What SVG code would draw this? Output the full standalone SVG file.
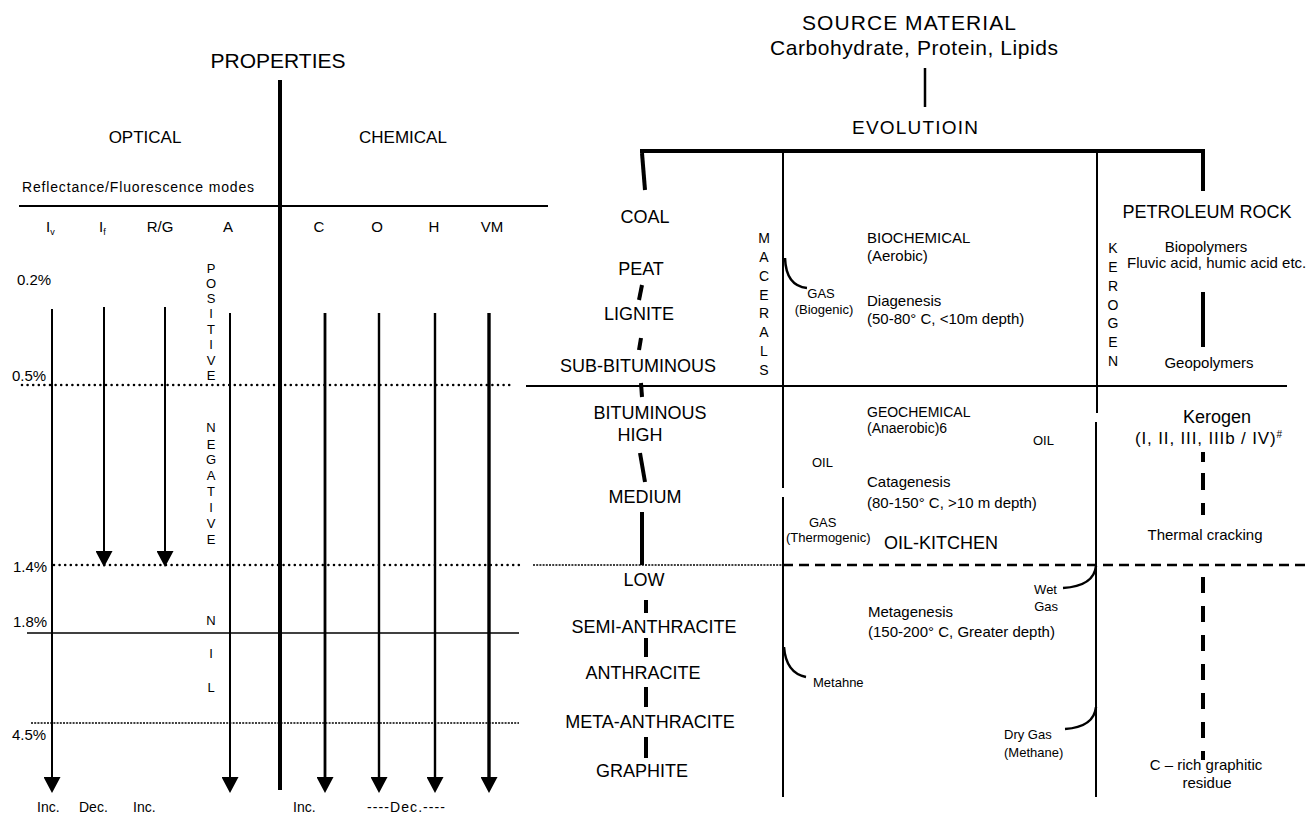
<svg xmlns="http://www.w3.org/2000/svg" width="1311" height="814" viewBox="0 0 1311 814">
<style>
text{font-family:"Liberation Sans",Arial,sans-serif;fill:#000}
.t21{font-size:21px}.t20{font-size:20px}.t18{font-size:18px}.t17{font-size:17px}.t15{font-size:15px}.t14{font-size:14px}.t13{font-size:13px}
.m{text-anchor:middle}.e{text-anchor:end}
.ln{stroke:#000;fill:none}
.dots{stroke:#000;stroke-width:2.6;stroke-linecap:round;stroke-dasharray:0 5.6}
.fine{stroke:#000;stroke-width:1.4;stroke-dasharray:2 1.2}
.dash{stroke:#000;stroke-width:2.6;stroke-dasharray:10 6}
.bar{stroke:#000;stroke-width:4;fill:none}
</style>
<defs>
<marker id="ah" markerUnits="userSpaceOnUse" markerWidth="16" markerHeight="17" viewBox="0 0 16 17" refX="6" refY="8.5" orient="auto"><path d="M0,0 L16,8.5 L0,17 z" fill="#000"/></marker>
</defs>
<rect width="1311" height="814" fill="#fff"/>

<g id="connectors">
<!-- left panel structure -->
<line class="ln" x1="280" y1="80" x2="280" y2="790" stroke-width="4"/>
<line class="ln" x1="19" y1="206" x2="548" y2="206" stroke-width="2"/>
<line class="dots" x1="22" y1="385" x2="512" y2="385"/>
<line class="dots" x1="54" y1="565" x2="519" y2="565"/>
<line class="ln" x1="27" y1="633" x2="519" y2="633" stroke-width="1.6"/>
<line class="fine" x1="31" y1="723" x2="519" y2="723"/>
<!-- arrows -->
<line class="ln" x1="52" y1="309" x2="52" y2="783" stroke-width="2" marker-end="url(#ah)"/>
<line class="ln" x1="104" y1="307" x2="104" y2="557" stroke-width="2" marker-end="url(#ah)"/>
<line class="ln" x1="165" y1="307" x2="165" y2="557" stroke-width="2" marker-end="url(#ah)"/>
<line class="ln" x1="230" y1="313" x2="230" y2="783" stroke-width="2" marker-end="url(#ah)"/>
<line class="ln" x1="325" y1="313" x2="325" y2="783" stroke-width="2.8" marker-end="url(#ah)"/>
<line class="ln" x1="379" y1="313" x2="379" y2="783" stroke-width="2.4" marker-end="url(#ah)"/>
<line class="ln" x1="435" y1="313" x2="435" y2="783" stroke-width="2.4" marker-end="url(#ah)"/>
<line class="ln" x1="489" y1="313" x2="489" y2="783" stroke-width="3.4" marker-end="url(#ah)"/>

<!-- right panel structure -->
<line class="ln" x1="925" y1="68" x2="925" y2="107" stroke-width="2.5"/>
<line class="bar" x1="640" y1="151" x2="1205" y2="151"/>
<line class="bar" x1="1203" y1="151" x2="1203" y2="191"/>
<line class="ln" x1="783" y1="151" x2="783" y2="488" stroke-width="2"/>
<line class="ln" x1="783" y1="497" x2="783" y2="797" stroke-width="2"/>
<line class="ln" x1="1097" y1="151" x2="1097" y2="413" stroke-width="2"/>
<line class="ln" x1="1096" y1="422" x2="1096" y2="797" stroke-width="2"/>
<line class="ln" x1="526" y1="386" x2="1287" y2="386" stroke-width="2"/>
<line class="fine" x1="533" y1="565" x2="783" y2="565"/>
<line class="dash" x1="783" y1="565" x2="1311" y2="565"/>

<!-- coal series bars -->
<line class="bar" x1="642" y1="153" x2="645" y2="190"/>
<line class="bar" x1="642" y1="285" x2="639" y2="300"/>
<line class="bar" x1="641" y1="338" x2="639" y2="350"/>
<line class="bar" x1="641" y1="383" x2="642" y2="397"/>
<line class="bar" x1="640" y1="453" x2="645" y2="482"/>
<line class="bar" x1="642" y1="512" x2="642" y2="565" stroke-width="4.5"/>
<line class="bar" x1="646" y1="600" x2="646" y2="613"/>
<line class="bar" x1="646" y1="638" x2="646" y2="657"/>
<line class="bar" x1="646" y1="687" x2="646" y2="707"/>
<line class="bar" x1="646" y1="737" x2="646" y2="758"/>

<!-- petroleum series bars -->
<line class="bar" x1="1203" y1="292" x2="1203" y2="347"/>
<line class="bar" x1="1203" y1="452" x2="1203" y2="462"/>
<line class="bar" x1="1203" y1="473" x2="1203" y2="490"/>
<line class="bar" x1="1203" y1="503" x2="1203" y2="515"/>
<line class="bar" x1="1203" y1="577" x2="1203" y2="760" stroke-dasharray="16 13"/>

<!-- gas curves -->
<path class="ln" stroke-width="2.5" d="M785,258 Q786,286 807,288"/>
<path class="ln" stroke-width="2.5" d="M784,647 Q786,673 806,677"/>
<path class="ln" stroke-width="2.5" d="M1096,566 Q1094,586 1063,588"/>
<path class="ln" stroke-width="2.5" d="M1096,707 Q1094,727 1065,729"/>
</g>

<g id="properties-header">
<text class="t21 m" x="278" y="68">PROPERTIES</text>
<text class="t17 m" x="145" y="143">OPTICAL</text>
<text class="t17 m" x="403" y="143">CHEMICAL</text>
<text class="t14" x="22" y="192" textLength="232" lengthAdjust="spacing">Reflectance/Fluorescence   modes</text>
</g>

<g id="column-headers">
<text class="t15" x="46" y="232">I<tspan font-size="9" dy="3">v</tspan></text>
<text class="t15" x="99" y="232">I<tspan font-size="9" dy="3">f</tspan></text>
<text class="t15 m" x="160" y="232">R/G</text>
<text class="t15 m" x="228" y="232">A</text>
<text class="t15 m" x="319" y="232">C</text>
<text class="t15 m" x="377" y="232">O</text>
<text class="t15 m" x="434" y="232">H</text>
<text class="t15 m" x="492" y="232">VM</text>
</g>

<g id="reflectance-levels">
<text class="t15" x="17" y="285">0.2%</text>
<text class="t15" x="12" y="381">0.5%</text>
<text class="t15" x="13" y="572">1.4%</text>
<text class="t15" x="13" y="627">1.8%</text>
<text class="t15" x="12" y="740">4.5%</text>
</g>

<g id="fluorescence-sign">
<text class="t13 m" x="211" y="273">P</text>
<text class="t13 m" x="211" y="288">O</text>
<text class="t13 m" x="211" y="303">S</text>
<text class="t13 m" x="211" y="318">I</text>
<text class="t13 m" x="211" y="334">T</text>
<text class="t13 m" x="211" y="349">I</text>
<text class="t13 m" x="211" y="365">V</text>
<text class="t13 m" x="211" y="380">E</text>
<text class="t13 m" x="211" y="432">N</text>
<text class="t13 m" x="211" y="449">E</text>
<text class="t13 m" x="211" y="464">G</text>
<text class="t13 m" x="211" y="480">A</text>
<text class="t13 m" x="211" y="496">T</text>
<text class="t13 m" x="211" y="512">I</text>
<text class="t13 m" x="211" y="528">V</text>
<text class="t13 m" x="211" y="544">E</text>
<text class="t13 m" x="211" y="625">N</text>
<text class="t13 m" x="211" y="658">I</text>
<text class="t13 m" x="211" y="692">L</text>
</g>

<g id="trend-labels">
<text class="t14" x="37" y="812">Inc.</text>
<text class="t14" x="79" y="812">Dec.</text>
<text class="t14" x="133" y="812">Inc.</text>
<text class="t14" x="293" y="812">Inc.</text>
<text class="t14" x="367" y="812" textLength="78" lengthAdjust="spacing">----Dec.----</text>
</g>

<g id="source-material">
<text class="t21 m" x="909" y="30" textLength="214" lengthAdjust="spacing">SOURCE MATERIAL</text>
<text class="t21 m" x="914" y="55" textLength="288" lengthAdjust="spacing">Carbohydrate, Protein, Lipids</text>
</g>
<g id="evolution">
<text class="m" font-size="19" x="915" y="134" textLength="126" lengthAdjust="spacing">EVOLUTIOIN</text>
</g>

<g id="coal-series">
<text class="t18 m" x="645" y="223">COAL</text>
<text class="t18 m" x="641" y="275">PEAT</text>
<text class="t18 m" x="639" y="320">LIGNITE</text>
<text class="t18 m" x="638" y="372">SUB-BITUMINOUS</text>
<text class="t18 m" x="650" y="419">BITUMINOUS</text>
<text class="t18 m" x="640" y="441">HIGH</text>
<text class="t18 m" x="645" y="503">MEDIUM</text>
<text class="t18 m" x="644" y="586">LOW</text>
<text class="t18 m" x="654" y="633">SEMI-ANTHRACITE</text>
<text class="t18 m" x="643" y="679">ANTHRACITE</text>
<text class="t18 m" x="650" y="728">META-ANTHRACITE</text>
<text class="t18 m" x="642" y="777">GRAPHITE</text>
</g>

<g id="macerals">
<text class="t14 m" x="764" y="243">M</text>
<text class="t14 m" x="764" y="262">A</text>
<text class="t14 m" x="764" y="281">C</text>
<text class="t14 m" x="764" y="300">E</text>
<text class="t14 m" x="764" y="318">R</text>
<text class="t14 m" x="764" y="337">A</text>
<text class="t14 m" x="764" y="356">L</text>
<text class="t14 m" x="764" y="375">S</text>
</g>

<g id="biochemical-stage">
<text class="t13 m" x="821" y="298">GAS</text>
<text class="t13 m" x="824" y="314">(Biogenic)</text>
<text class="t15" x="867" y="243">BIOCHEMICAL</text>
<text class="t15" x="867" y="261">(Aerobic)</text>
<text class="t15" x="867" y="306">Diagenesis</text>
<text class="t15" x="867" y="324">(50-80° C, &lt;10m depth)</text>
</g>

<g id="geochemical-stage">
<text class="t14" x="867" y="417">GEOCHEMICAL</text>
<text class="t14" x="867" y="433">(Anaerobic)6</text>
<text class="t13" x="1033" y="445">OIL</text>
<text class="t13" x="812" y="467">OIL</text>
<text class="t15" x="867" y="487">Catagenesis</text>
<text class="t15" x="867" y="508">(80-150° C, &gt;10 m depth)</text>
<text class="t13" x="809" y="527">GAS</text>
<text class="t13" x="786" y="542" font-size="13.5">(Thermogenic)</text>
<text class="t18" x="884" y="549">OIL-KITCHEN</text>
</g>

<g id="metagenesis-stage">
<text class="t13 e" x="1057" y="594">Wet</text>
<text class="t13 e" x="1058" y="611">Gas</text>
<text class="t15" x="868" y="617">Metagenesis</text>
<text class="t15" x="868" y="637">(150-200°  C, Greater depth)</text>
<text class="t13" x="813" y="687">Metahne</text>
<text class="t13" x="1004" y="739">Dry Gas</text>
<text class="t13" x="1004" y="757">(Methane)</text>
</g>

<g id="kerogen">
<text class="t14 m" x="1113" y="253">K</text>
<text class="t14 m" x="1113" y="272">E</text>
<text class="t14 m" x="1113" y="291">R</text>
<text class="t14 m" x="1113" y="310">O</text>
<text class="t14 m" x="1113" y="328">G</text>
<text class="t14 m" x="1113" y="347">E</text>
<text class="t14 m" x="1113" y="366">N</text>
</g>

<g id="petroleum-rock">
<text class="t18 m" x="1207" y="218">PETROLEUM ROCK</text>
<text class="t15 m" x="1206" y="252">Biopolymers</text>
<text class="t15" x="1127" y="268">Fluvic acid, humic acid etc.</text>
<text class="t15 m" x="1209" y="368">Geopolymers</text>
<text class="t18 m" x="1217" y="423">Kerogen</text>
<text class="t17" x="1135" y="444" textLength="147" lengthAdjust="spacing">(I, II, III, IIIb / IV)<tspan font-size="10" dy="-6">#</tspan></text>
<text class="t15 m" x="1205" y="540">Thermal cracking</text>
<text class="t15 m" x="1206" y="770">C – rich graphitic</text>
<text class="t15 m" x="1207" y="788">residue</text>
</g>
</svg>
